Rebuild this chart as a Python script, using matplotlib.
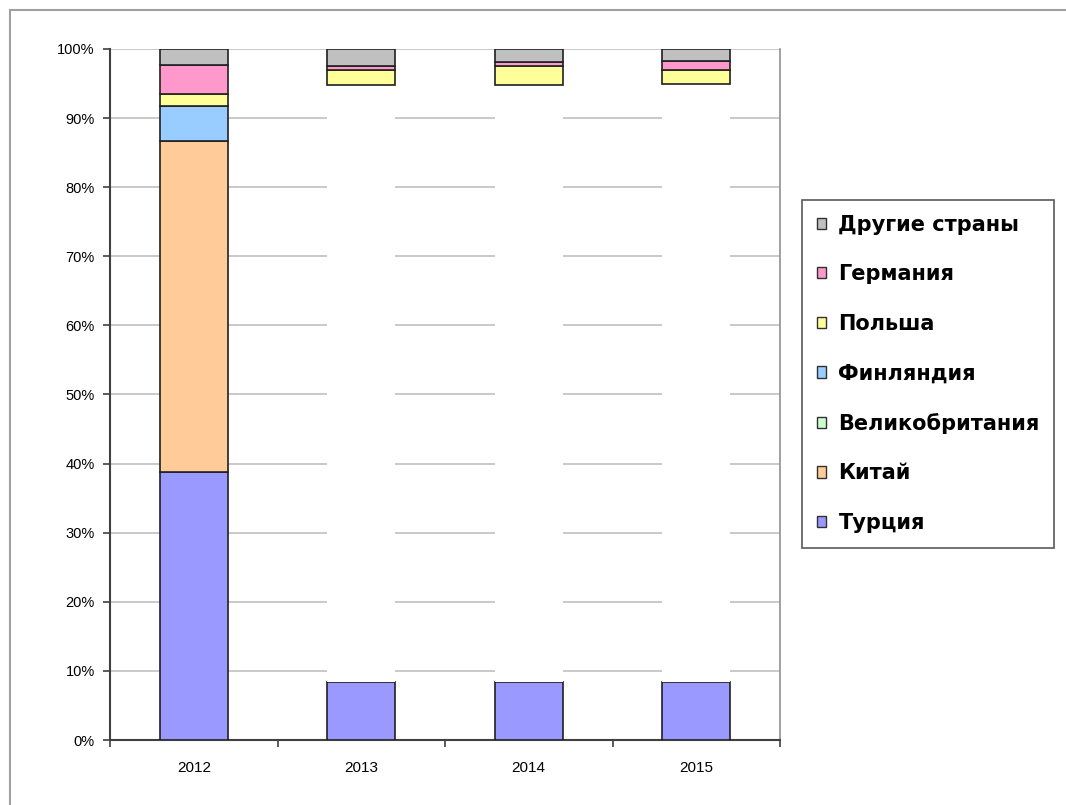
import numpy as np
import matplotlib
matplotlib.use("Agg")
import matplotlib.pyplot as plt
from matplotlib.patches import Patch, Rectangle

plt.rcParams['font.family'] = ['Liberation Sans', 'DejaVu Sans']

# --- Data (shares, %) ---
years = ["2012", "2013", "2014", "2015"]
turkey = [38.8, 8.4, 8.4, 8.4]
china = [47.9, 86.4, 86.4, 86.6]
uk = [0.0, 0.0, 0.0, 0.0]
finland = [5.0, 0.0, 0.0, 0.0]
poland = [1.8, 2.2, 2.8, 2.0]
germany = [4.2, 0.6, 0.5, 1.2]
others = [2.3, 2.4, 1.9, 1.8]

series = [
    ("Турция", turkey, "#9999FF"),
    ("Китай", china, "#FFCC99"),
    ("Великобритания", uk, "#CCFFCC"),
    ("Финляндия", finland, "#99CCFF"),
    ("Польша", poland, "#FFFF99"),
    ("Германия", germany, "#FF99CC"),
    ("Другие страны", others, "#C0C0C0"),
]
# the China segment is blank (white) in the source for 2013-2015
blank_china = [False, True, True, True]

fig = plt.figure(figsize=(10.66, 8.05), dpi=100)
fig.patches.append(Rectangle((10 / 1066, -0.01), 1.1, 1 - 10 / 805 + 0.01,
                             transform=fig.transFigure, fill=False,
                             edgecolor="#A0A0A0", linewidth=1.5))

ax = fig.add_axes([110 / 1066, 1 - 740 / 805, 670 / 1066, 691 / 805])

x = np.arange(len(years))
width = 0.406
bottom = np.zeros(len(years))
for name, vals, color in series:
    vals = np.array(vals)
    for i in range(len(years)):
        if vals[i] <= 0:
            continue
        if name == "Китай" and blank_china[i]:
            ax.bar(x[i], vals[i], width, bottom=bottom[i], color="white",
                   edgecolor="none", zorder=3)
        else:
            ax.bar(x[i], vals[i], width, bottom=bottom[i], color=color,
                   edgecolor="#202020", linewidth=1.2, zorder=3)
    bottom += vals

ax.set_xlim(-0.5, 3.5)
ax.set_ylim(0, 100)
ax.set_yticks(np.arange(0, 101, 10))
ax.set_yticklabels([f"{v}%" for v in range(0, 101, 10)], fontsize=10.5)
ax.set_xticks(x)
ax.set_xticklabels(years, fontsize=11)
ax.set_xticks(np.arange(-0.5, 3.6, 1), minor=True)
ax.tick_params(axis="x", which="major", length=0, pad=15)
ax.tick_params(axis="x", which="minor", length=5, width=1.2, color="#404040")
ax.tick_params(axis="y", length=5, width=1.2, color="#404040", pad=6)
ax.yaxis.grid(True, color="#C0C0C0", linewidth=1.2, zorder=0)
ax.set_axisbelow(True)
for s in ["left", "bottom"]:
    ax.spines[s].set_color("#404040")
    ax.spines[s].set_linewidth(1.5)
ax.spines["top"].set_visible(False)
ax.spines["right"].set_color("#909090")
ax.spines["right"].set_linewidth(1.2)

handles = [Patch(facecolor=c, edgecolor="#303030", linewidth=1.0, label=n)
           for n, _, c in reversed(series)]
leg = fig.legend(handles=handles, loc="upper left",
                 bbox_to_anchor=(802 / 1066, 1 - 200 / 805),
                 prop={"family": "DejaVu Sans", "weight": "bold", "size": 15},
                 frameon=True, fancybox=False, edgecolor="#303030",
                 handlelength=0.45, handleheight=0.45, handletextpad=0.6,
                 labelspacing=1.42, borderpad=0.7, borderaxespad=0)
leg.get_frame().set_linewidth(1.2)

fig.savefig("out.png", dpi=100)
